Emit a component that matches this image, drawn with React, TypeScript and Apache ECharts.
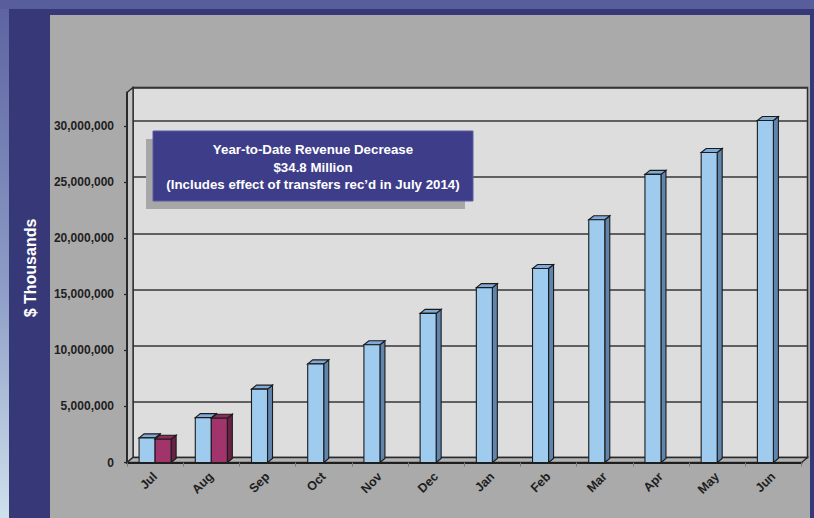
import React, { useEffect, useRef } from "react";
import * as echarts from "echarts";

const months = ["Jul", "Aug", "Sep", "Oct", "Nov", "Dec", "Jan", "Feb", "Mar", "Apr", "May", "Jun"];
const currentYear = [2200000, 4000000, 6540000, 8800000, 10500000, 13300000, 15600000, 17300000, 21650000, 25700000, 27650000, 30500000];
const priorYear = [2080000, 3950000];
const yTicks = { min: 0, max: 33000000, interval: 5000000 };
const yAxisTitle = "$ Thousands";
const noteLines = [
  "Year-to-Date Revenue Decrease",
  "$34.8 Million",
  "(Includes effect of transfers rec\u2019d in July 2014)",
];

const FONT = "'Liberation Sans', Arial, sans-serif";
const DX = 6;
const DY = 5;

function barRenderer(front: string, side: string, top: string, left: boolean) {
  return (params: any, api: any) => {
    const idx = api.value(0);
    const v = api.value(1);
    const [cx, yTop] = api.coord([idx, v]);
    const [, y0] = api.coord([idx, 0]);
    const band = api.size([1, 0])[0];
    const w = band * 0.285;
    const x0 = left ? cx - w : cx;
    const dx = 5;
    const dy = 4;
    const stroke = { stroke: "#1b1b1b", lineWidth: 1.1 };
    return {
      type: "group",
      children: [
        {
          type: "polygon",
          shape: { points: [[x0 + w, yTop], [x0 + w + dx, yTop - dy], [x0 + w + dx, y0 - dy], [x0 + w, y0]] },
          style: { fill: side, ...stroke },
        },
        {
          type: "polygon",
          shape: { points: [[x0, yTop], [x0 + dx, yTop - dy], [x0 + w + dx, yTop - dy], [x0 + w, yTop]] },
          style: { fill: top, ...stroke },
        },
        {
          type: "rect",
          shape: { x: x0, y: yTop, width: w, height: y0 - yTop },
          style: { fill: front, ...stroke },
        },
      ],
    };
  };
}

function wallsRenderer(params: any, api: any) {
  const cs = params.coordSys;
  const x = cs.x;
  const y = cs.y;
  const w = cs.width;
  const h = cs.height;
  const st = { stroke: "#2a2a2a", lineWidth: 1.3 };
  return {
    type: "group",
    children: [
      {
        type: "polygon",
        shape: { points: [[x, y], [x + DX, y - DY], [x + DX, y + h - DY], [x, y + h]] },
        style: { fill: "#c4c4c4", ...st },
      },
      {
        type: "polygon",
        shape: { points: [[x, y + h], [x + DX, y + h - DY], [x + w + DX, y + h - DY], [x + w, y + h]] },
        style: { fill: "#b3b3b3", ...st },
      },
    ],
  };
}

export default function App() {
  const ref = useRef<HTMLDivElement>(null);
  useEffect(() => {
    if (!ref.current) return;
    const chart = echarts.init(ref.current, null, { renderer: "svg" });
    const gridFront = { left: 127, top: 92.5, width: 674.5, height: 370 };
    const gridBack = {
      left: 127 + DX,
      top: 92.5 - DY,
      width: 674.5,
      height: 370,
      show: true,
      backgroundColor: "#dcdddc",
      borderColor: "#2e2e2e",
      borderWidth: 1.5,
    };
    const option: any = {
      animation: false,
      backgroundColor: "transparent",
      grid: [gridFront, gridBack],
      xAxis: [
        {
          type: "category",
          gridIndex: 0,
          data: months,
          boundaryGap: true,
          axisLine: { show: true, lineStyle: { color: "#1e1e1e", width: 2 } },
          axisTick: { show: true, length: 4, lineStyle: { color: "#7a7a7a", width: 1 } },
          axisLabel: {
            rotate: 45,
            margin: 12,
            color: "#1e1e1e",
            fontWeight: "bold",
            fontSize: 12.5,
            fontFamily: FONT,
          },
          splitLine: { show: false },
          z: 5,
        },
        {
          type: "category",
          gridIndex: 1,
          data: months,
          show: false,
        },
      ],
      yAxis: [
        {
          type: "value",
          gridIndex: 0,
          min: yTicks.min,
          max: yTicks.max,
          interval: yTicks.interval,
          axisLine: { show: true, lineStyle: { color: "#2a2a2a", width: 2 } },
          axisTick: { show: true, inside: false, length: 3, lineStyle: { color: "#2a2a2a", width: 1.3 } },
          axisLabel: {
            showMaxLabel: false,
            margin: 13,
            color: "#1e1e1e",
            fontWeight: "bold",
            fontSize: 12,
            fontFamily: FONT,
            formatter: (v: number) => v.toLocaleString("en-US"),
          },
          splitLine: { show: false },
          z: 5,
        },
        {
          type: "value",
          gridIndex: 1,
          min: yTicks.min,
          max: yTicks.max,
          interval: yTicks.interval,
          axisLine: { show: false },
          axisTick: { show: false },
          axisLabel: { show: false },
          splitLine: { show: true, lineStyle: { color: "#363636", width: 1.5 } },
        },
      ],
      graphic: [
        {
          type: "text",
          x: 30,
          y: 268,
          rotation: Math.PI / 2,
          style: {
            text: yAxisTitle,
            fill: "#ffffff",
            font: `bold 16px ${FONT}`,
            align: "center",
            verticalAlign: "middle",
          },
          z: 10,
        },
        {
          type: "rect",
          shape: { x: 146, y: 139, width: 319, height: 70 },
          style: { fill: "#a7a7a7" },
          z: 10,
        },
        {
          type: "rect",
          shape: { x: 153, y: 131, width: 320, height: 70 },
          style: { fill: "#3e3d8a", stroke: "#5b5aa0", lineWidth: 1 },
          z: 11,
        },
        {
          type: "text",
          x: 313,
          y: 167,
          style: {
            text: noteLines.join("\n"),
            fill: "#ffffff",
            font: `bold 13.3px ${FONT}`,
            lineHeight: 17.5,
            align: "center",
            verticalAlign: "middle",
          },
          z: 12,
        },
      ],
      series: [
        {
          type: "custom",
          name: "walls",
          xAxisIndex: 0,
          yAxisIndex: 0,
          data: [[0, 0]],
          renderItem: wallsRenderer,
          silent: true,
          z: 1,
        },
        {
          type: "custom",
          name: "Current Year",
          xAxisIndex: 0,
          yAxisIndex: 0,
          data: currentYear.map((v, i) => [i, v]),
          renderItem: barRenderer("#9fcbee", "#5f84ae", "#7fa9d6", true),
          z: 3,
        },
        {
          type: "custom",
          name: "Prior Year",
          xAxisIndex: 0,
          yAxisIndex: 0,
          data: priorYear.map((v, i) => [i, v]),
          renderItem: barRenderer("#a1346b", "#6a2244", "#8a2b5a", false),
          z: 4,
        },
      ],
    };
    chart.setOption(option);
    return () => chart.dispose();
  }, []);

  return (
    <div style={{ position: "absolute", left: 0, top: 0, width: 814, height: 518, overflow: "hidden" }}>
      <div
        style={{
          position: "absolute",
          left: 0,
          top: 0,
          width: 814,
          height: 518,
          background: "linear-gradient(to bottom, #5c62a0 0%, #8c9cc6 55%, #cfe1ec 100%)",
        }}
      />
      <div style={{ position: "absolute", left: 0, top: 0, width: 814, height: 9, background: "#585e9b" }} />
      <div style={{ position: "absolute", left: 9, top: 9, width: 805, height: 509, background: "#363878" }} />
      <div style={{ position: "absolute", left: 50, top: 15, width: 760, height: 503, background: "#aaaaaa" }} />
      <div ref={ref} style={{ position: "absolute", left: 0, top: 0, width: 814, height: 518 }} />
    </div>
  );
}
